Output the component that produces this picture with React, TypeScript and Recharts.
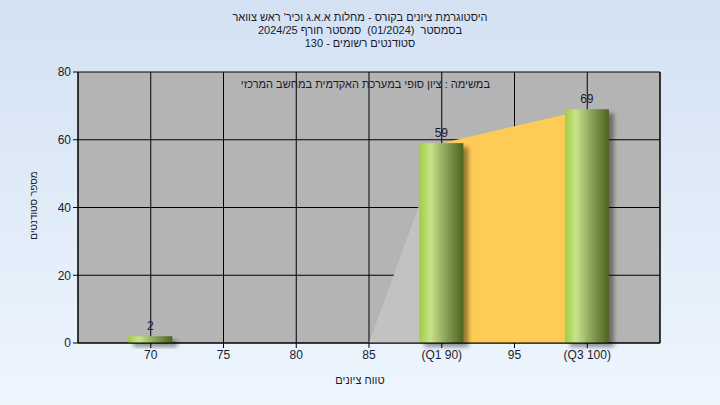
import React from 'react';
import {
  ComposedChart,
  Bar,
  Area,
  XAxis,
  YAxis,
  CartesianGrid,
  LabelList
} from 'recharts';

const grades = [70, 75, 80, 85, 90, 95, 100];
const gradeLabels = ['70', '75', '80', '85', '(Q1 90)', '95', '(Q3 100)'];
const students = [2, 0, 0, 0, 59, 0, 69];
const lowerBand = [null, null, null, 0, 59, null, null];
const upperBand = [null, null, null, null, 59, null, 69];
const countTicks = [0, 20, 40, 60, 80];

const titleLines = [
  "היסטוגרמת ציונים בקורס - מחלות א.א.ג וכיר' ראש צוואר",
  'בסמסטר  (01/2024)  סמסטר חורף 2024/25',
  'סטודנטים רשומים - 130'
];
const note = 'במשימה : ציון סופי במערכת האקדמית במחשב המרכזי';

const data = grades.map((g, i) => ({
  grade: g,
  count: students[i],
  low: lowerBand[i],
  up: upperBand[i]
}));

const font = '"Liberation Sans", Arial, sans-serif';
const tickStyle = { fill: '#1a1a33', fontSize: 12, fontFamily: font };

const CylinderBar = (props: any) => {
  const { x, y, width, height } = props;
  if (!height || height <= 0) return null;
  return (
    <g>
      <rect x={x + 5} y={y + 4} width={width} height={height} fill="#000" opacity={0.4} filter="url(#blur)" />
      <rect x={x} y={y} width={width} height={height} fill="url(#barGrad)" />
    </g>
  );
};

export default function App() {
  return (
    <div
      style={{
        position: 'absolute',
        left: 0,
        top: 0,
        width: 720,
        height: 405,
        background: 'linear-gradient(#d3e1f3, #eef6fe)',
        fontFamily: font,
        color: '#1a1a2a'
      }}
    >
      <ComposedChart
        width={720}
        height={405}
        data={data}
        margin={{ top: 72, right: 0, bottom: 0, left: 0 }}
      >
        <defs>
          <linearGradient id="barGrad" x1="0" y1="0" x2="1" y2="0">
            <stop offset="0" stopColor="#9fcd3e" />
            <stop offset="0.25" stopColor="#c8e38d" />
            <stop offset="0.6" stopColor="#8aa458" />
            <stop offset="1" stopColor="#4a6320" />
          </linearGradient>
          <filter id="blur" x="-20%" y="-20%" width="140%" height="140%">
            <feGaussianBlur stdDeviation="2" />
          </filter>
        </defs>
        <CartesianGrid
          stroke="#000"
          strokeOpacity={1}
          fill="#b4b4b4"
          fillOpacity={1}
          yAxisId="left"
        />
        <XAxis
          dataKey="grade"
          type="number"
          domain={[65, 105]}
          ticks={grades}
          tickFormatter={(v: number) => gradeLabels[grades.indexOf(v)]}
          height={62}
          stroke="#000"
          tick={tickStyle}
          tickSize={5}
          interval={0}
        />
        <YAxis
          yAxisId="left"
          domain={[0, 80]}
          ticks={countTicks}
          width={78}
          stroke="#000"
          tick={tickStyle}
          tickSize={5}
        />
        <YAxis
          yAxisId="right"
          orientation="right"
          domain={[0, 80]}
          ticks={countTicks}
          width={60}
          stroke="#000"
          tick={tickStyle}
          tickSize={5}
        />
        <Area
          yAxisId="left"
          dataKey="low"
          type="linear"
          stroke="none"
          fill="#c2c2c2"
          fillOpacity={1}
          connectNulls={false}
          isAnimationActive={false}
          dot={false}
          activeDot={false}
        />
        <Area
          yAxisId="left"
          dataKey="up"
          type="linear"
          stroke="none"
          fill="#fecb57"
          fillOpacity={1}
          connectNulls
          isAnimationActive={false}
          dot={false}
          activeDot={false}
        />
        <Bar
          yAxisId="left"
          dataKey="count"
          barSize={44}
          shape={<CylinderBar />}
          isAnimationActive={false}
        >
          <LabelList
            dataKey="count"
            position="top"
            offset={6}
            formatter={(v: number) => (v ? String(v) : '')}
            style={{ fill: '#1a1a33', fontSize: 12, fontFamily: font }}
          />
        </Bar>
      </ComposedChart>

      <div
        style={{
          position: 'absolute',
          top: 11,
          left: 0,
          width: 720,
          textAlign: 'center',
          fontSize: 11,
          lineHeight: '13px',
          direction: 'rtl'
        }}
      >
        {titleLines.map((t) => (
          <div key={t} style={{ whiteSpace: 'pre' }}>
            {t}
          </div>
        ))}
      </div>
      <div
        style={{
          position: 'absolute',
          top: 78,
          left: 250,
          width: 240,
          textAlign: 'right',
          fontSize: 11,
          direction: 'rtl',
          whiteSpace: 'nowrap'
        }}
      >
        {note}
      </div>
      <div
        style={{
          position: 'absolute',
          top: 374,
          left: 0,
          width: 720,
          textAlign: 'center',
          fontSize: 11,
          direction: 'rtl'
        }}
      >
        טווח ציונים
      </div>
      <div
        style={{
          position: 'absolute',
          top: 200,
          left: -17,
          width: 100,
          textAlign: 'center',
          fontSize: 10,
          direction: 'rtl',
          transform: 'rotate(-90deg)'
        }}
      >
        מספר סטודנטים
      </div>
    </div>
  );
}
